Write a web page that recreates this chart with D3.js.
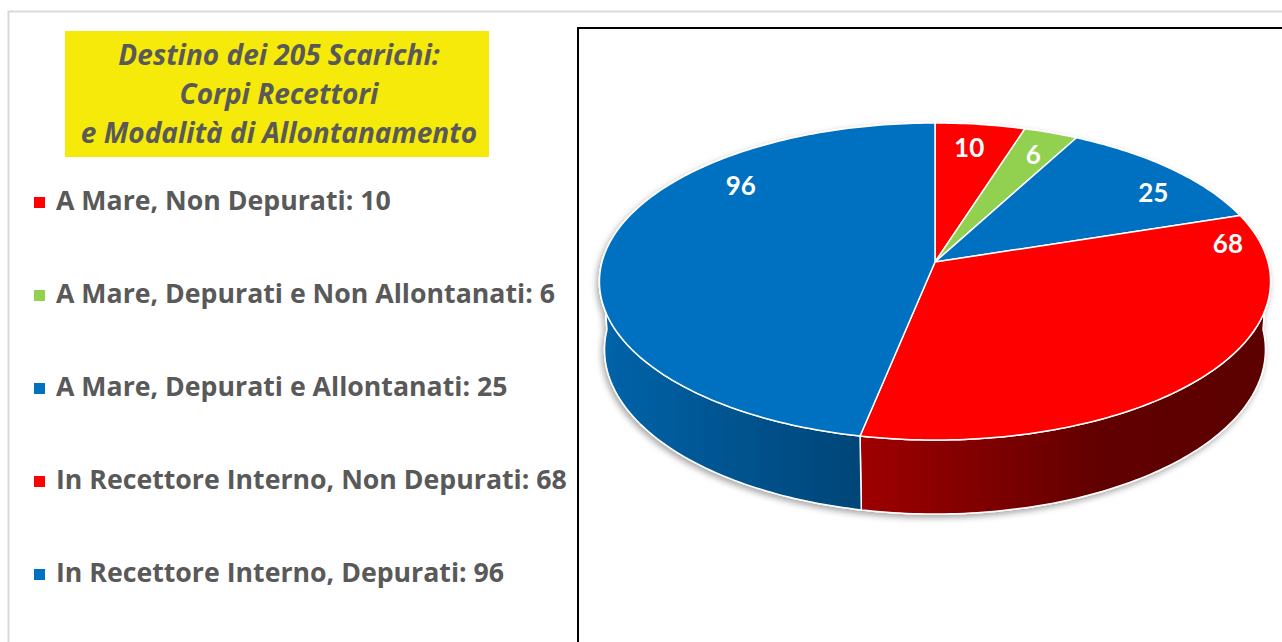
<!DOCTYPE html>
<html>
<head>
<meta charset="utf-8">
<script src="https://cdn.jsdelivr.net/npm/d3@7"></script>
<style>
  html, body { margin: 0; padding: 0; background: #fff; overflow: hidden; }
  svg { display: block; font-family: 'Open Sans', Lato, sans-serif; }
</style>
</head>
<body>
<div id="chart"></div>
<script>
'use strict';

// chart data
const titleLines = ['Destino dei 205 Scarichi:', 'Corpi Recettori', 'e Modalità di Allontanamento'];
const categories = [
  'A Mare, Non Depurati',
  'A Mare, Depurati e Non Allontanati',
  'A Mare, Depurati e Allontanati',
  'In Recettore Interno, Non Depurati',
  'In Recettore Interno, Depurati'
];
const values = [10, 6, 25, 68, 96];
const sliceColors = ['#FF0000', '#92D050', '#0070C0', '#FF0000', '#0070C0'];

// where excel dropped the value labels (angle in degrees, clockwise from top, radius fraction)
const labelSpots = [[8, 0.81], [23.3, 0.815], [55.7, 0.84], [82.5, 0.9], [310, 0.81]];

const W = 1282, H = 642;
const TEXT = '#595959';

class Pie3D {

  constructor(svg, opts) {
    this.svg = svg;
    this.cx = opts.cx;
    this.cy = opts.cy;
    this.f = opts.f;
    this.D = opts.D;
    this.tilt = opts.tilt * Math.PI / 180;
    this.h = opts.h;
    this.defs = svg.append('defs');
  }

  // perspective projection of a point on a unit disc (Y up, Z away from viewer)
  proj(X, Y, Z) {
    const s = Math.sin(this.tilt), c = Math.cos(this.tilt);
    const depth = this.D - Y * s + Z * c;
    return [this.cx + this.f * X / depth, this.cy - this.f * (Y * c + Z * s) / depth];
  }

  rim(a0, a1, Y, r) {
    const pts = [];
    const n = Math.max(2, Math.ceil((a1 - a0) / (Math.PI / 180)));
    for (let i = 0; i <= n; i++) {
      const a = a0 + (a1 - a0) * i / n;
      pts.push(this.proj(r * Math.sin(a), Y, r * Math.cos(a)));
    }
    return pts;
  }

  wallGradient(color, i) {
    const id = 'wall_' + i;
    const left = this.proj(-1, 0, 0)[0], right = this.proj(1, 0, 0)[0];
    const g = this.defs.append('linearGradient')
      .attr('id', id)
      .attr('gradientUnits', 'userSpaceOnUse')
      .attr('x1', left).attr('x2', right)
      .attr('y1', 0).attr('y2', 0);
    const base = d3.rgb(color);
    [[0, 0.88], [0.39, 0.62], [0.75, 0.38], [1, 0.36]].forEach(function(st) {
      const k = st[1];
      g.append('stop')
        .attr('offset', st[0])
        .attr('stop-color', d3.rgb(base.r * k, base.g * k, base.b * k).formatHex());
    });
    return 'url(#' + id + ')';
  }

  draw(data, colors) {
    const self = this;
    const arcs = d3.pie().sort(null).startAngle(0).endAngle(2 * Math.PI)(data);
    const line = d3.line();

    const shadow = this.defs.append('filter')
      .attr('id', 'pieShadow')
      .attr('x', '-10%').attr('y', '-10%')
      .attr('width', '120%').attr('height', '130%');
    shadow.append('feDropShadow')
      .attr('dx', -2).attr('dy', 3)
      .attr('stdDeviation', 3)
      .attr('flood-color', '#000')
      .attr('flood-opacity', 0.35);

    const g = this.svg.append('g');
    const walls = g.append('g').attr('filter', 'url(#pieShadow)');

    // split every wall at the left/right extremes so the front ones go on last
    const pieces = [];
    arcs.forEach(function(a, i) {
      const cuts = [a.startAngle];
      [Math.PI / 2, 3 * Math.PI / 2].forEach(function(c) {
        if (c > a.startAngle && c < a.endAngle) cuts.push(c);
      });
      cuts.push(a.endAngle);
      for (let k = 0; k < cuts.length - 1; k++) {
        const mid = (cuts[k] + cuts[k + 1]) / 2;
        pieces.push({a0: cuts[k], a1: cuts[k + 1], i: i, front: Math.cos(mid) < 0});
      }
    });
    pieces.sort(function(p, q) { return p.front - q.front; });

    const fills = colors.map(function(c, i) { return self.wallGradient(c, i); });

    walls.selectAll('path')
      .data(pieces)
      .join('path')
      .attr('d', function(p) {
        const top = self.rim(p.a0, p.a1, 0, 1);
        const bot = self.rim(p.a0, p.a1, -self.h, 1).reverse();
        return line(top.concat(bot)) + 'Z';
      })
      .attr('fill', function(p) { return fills[p.i]; })
      .attr('stroke', '#fff')
      .attr('stroke-width', 1.5)
      .attr('stroke-linejoin', 'round');

    const apex = this.proj(0, 0, 0);
    g.append('g').selectAll('path')
      .data(arcs)
      .join('path')
      .attr('d', function(a) {
        return line([apex].concat(self.rim(a.startAngle, a.endAngle, 0, 1))) + 'Z';
      })
      .attr('fill', function(a, i) { return colors[i]; })
      .attr('stroke', '#fff')
      .attr('stroke-width', 1.5)
      .attr('stroke-linejoin', 'round');

    g.append('g').selectAll('text')
      .data(arcs)
      .join('text')
      .attr('transform', function(a, i) {
        const t = labelSpots[i][0] * Math.PI / 180, r = labelSpots[i][1];
        const p = self.proj(r * Math.sin(t), 0, r * Math.cos(t));
        return 'translate(' + p[0] + ',' + p[1] + ')';
      })
      .attr('text-anchor', 'middle')
      .attr('dy', '0.36em')
      .attr('fill', '#fff')
      .attr('font-family', 'Lato, sans-serif')
      .attr('font-weight', 700)
      .attr('font-size', 26)
      .text(function(a) { return a.data; });
  }
}

const svg = d3.select('#chart').append('svg')
  .attr('width', W)
  .attr('height', H);

// light outer border of the slide
svg.append('path')
  .attr('d', 'M8.5,' + H + 'V11.5H' + W)
  .attr('fill', 'none')
  .attr('stroke', '#d9d9d9')
  .attr('stroke-width', 2);

// title box
svg.append('rect')
  .attr('x', 65).attr('y', 31)
  .attr('width', 424).attr('height', 126)
  .attr('fill', '#F6EA0A');

svg.append('g').selectAll('text')
  .data(titleLines)
  .join('text')
  .attr('x', 279)
  .attr('y', function(d, i) { return 65 + i * 39; })
  .attr('text-anchor', 'middle')
  .attr('fill', TEXT)
  .attr('font-size', 28)
  .attr('font-weight', 700)
  .attr('font-style', 'italic')
  .text(function(d) { return d; });

// legend
const legendY = d3.scalePoint().domain(categories).range([210, 582]);
const legend = svg.append('g').selectAll('g')
  .data(categories)
  .join('g')
  .attr('transform', function(d) { return 'translate(0,' + legendY(d) + ')'; });

legend.append('rect')
  .attr('x', 34).attr('y', -13)
  .attr('width', 11).attr('height', 11)
  .attr('fill', function(d, i) { return sliceColors[i]; });

legend.append('text')
  .attr('x', 56)
  .attr('fill', TEXT)
  .attr('font-size', 26.7)
  .attr('font-weight', 700)
  .text(function(d, i) { return d + ': ' + values[i]; });

// plot frame
svg.append('rect')
  .attr('x', 578).attr('y', 28)
  .attr('width', W).attr('height', H)
  .attr('fill', 'none')
  .attr('stroke', '#000')
  .attr('stroke-width', 2);

const pie = new Pie3D(svg, {cx: 935, cy: 262, f: 2391, D: 7.18, tilt: 27.96, h: 0.2337});
pie.draw(values, sliceColors);
</script>
</body>
</html>
